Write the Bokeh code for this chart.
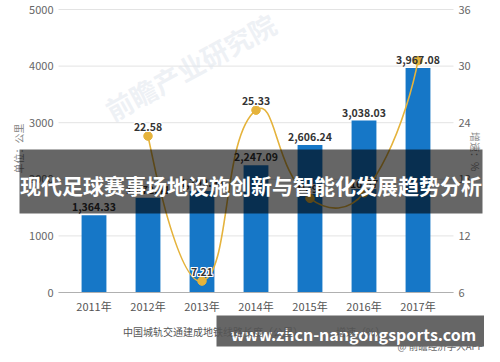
import math
from bokeh.plotting import figure
from bokeh.models import (Range1d, LinearAxis, FixedTicker, Label, BoxAnnotation,
                          Legend, LegendItem, ColumnDataSource)
from bokeh.core.properties import value
from bokeh.embed import file_html
from bokeh.resources import INLINE

# ---------------- data ----------------
years = ["2011年", "2012年", "2013年", "2014年", "2015年", "2016年", "2017年"]
length_km = [1364.33, 1672.41, 1792.94, 2247.09, 2606.24, 3038.03, 3967.08]
growth_years = ["2012年", "2013年", "2014年", "2015年", "2016年", "2017年"]
growth_pct = [22.58, 7.21, 25.33, 15.98, 16.57, 30.58]
left_ticks = [0, 1000, 2000, 3000, 4000, 5000]
right_ticks = [6, 12, 18, 24, 30, 36]
bar_name = "中国城轨交通建成地铁线路长度（公里）"
line_name = "增速（%）"
left_title = "单位：公里"
right_title = "增速：%"
title_text = "现代足球赛事场地设施创新与智能化发展趋势分析"
url_text = "www.zhcn-nangongsports.com"
credit_text = "@ 前瞻经济学人APP"
watermark = "前瞻产业研究院"

FONT = "Noto Sans CJK SC"
BLUE = "#1677c7"
GOLD = "#e5b33c"
W, H = 484, 352

# ---------------- layout (canvas pixels) ----------------
CAT_PX = 54.0          # pixels per category
X0_PX = 93.5           # canvas x of first category centre
PLOT_L, PLOT_R = 58, 453
Y_BOT, Y_TOP = 292, 9  # canvas y of axis minimum / maximum
L_MIN, L_MAX = left_ticks[0], left_ticks[-1]
R_MIN, R_MAX = right_ticks[0], right_ticks[-1]
lpx = (Y_BOT - Y_TOP) / (L_MAX - L_MIN)
rpx = (Y_BOT - Y_TOP) / (R_MAX - R_MIN)


def xv(px):
    return (px - X0_PX) / CAT_PX


def sy(py):  # canvas y (from top) -> screen y (from bottom)
    return H - py


x_lo, x_hi = xv(PLOT_L), xv(PLOT_R)

idx = list(range(len(years)))
gidx = [years.index(y) for y in growth_years]

p = figure(width=W, height=H, output_backend="svg", toolbar_location=None,
           x_range=Range1d(xv(0), xv(W)),
           y_range=Range1d(L_MIN - (H - Y_BOT) / lpx, L_MAX + Y_TOP / lpx),
           min_border_left=0, min_border_right=0, min_border_top=0,
           min_border_bottom=0)
p.outline_line_color = None
p.extra_y_ranges = {"pct": Range1d(R_MIN - (H - Y_BOT) / rpx, R_MAX + Y_TOP / rpx)}
p.xgrid.visible = False
p.ygrid.visible = False


def style_axis(ax, standoff, color):
    ax.axis_line_color = None
    ax.major_tick_line_color = None
    ax.minor_tick_line_color = None
    ax.major_tick_out = 0
    ax.major_tick_in = 0
    ax.minor_tick_out = 0
    ax.minor_tick_in = 0
    ax.major_label_text_font = FONT
    ax.major_label_text_font_size = "11px"
    ax.major_label_text_color = color
    ax.major_label_standoff = standoff


# x axis
xa = p.xaxis[0]
style_axis(xa, 5, "#555555")
xa.fixed_location = L_MIN
xa.bounds = (x_lo, x_hi)
xa.ticker = FixedTicker(ticks=idx)
xa.major_label_overrides = {i: years[i] for i in idx}
xa.axis_line_color = "#b0b0b0"

# left axis
ya = p.yaxis[0]
style_axis(ya, 5, "#666666")
ya.fixed_location = x_lo
ya.ticker = FixedTicker(ticks=left_ticks)

# right axis
ra = LinearAxis(y_range_name="pct", ticker=FixedTicker(ticks=right_ticks),
                fixed_location=x_hi)
style_axis(ra, 5, "#666666")
p.add_layout(ra, "right")

# horizontal grid lines at the left-axis ticks
p.segment(x0=x_lo, x1=x_hi, y0=left_ticks, y1=left_ticks,
          line_color="#e3e3e3", line_width=1, level="underlay")

# axis titles
p.add_layout(Label(x=18, y=sy(148), x_units="screen", y_units="screen",
                   text=left_title, angle=math.pi / 2, text_align="center",
                   text_baseline="middle", text_font=FONT, text_font_size="10px",
                   text_color="#888888"))
p.add_layout(Label(x=475, y=sy(151), x_units="screen", y_units="screen",
                   text=right_title, angle=-math.pi / 2, text_align="center",
                   text_baseline="middle", text_font=FONT, text_font_size="10px",
                   text_color="#888888"))

# watermark
p.add_layout(Label(x=xv(190), y=(Y_BOT - 66) / lpx, text=watermark, angle=0.5,
                   text_align="center", text_baseline="middle",
                   text_font=FONT, text_font_size="27px", text_font_style="bold",
                   text_color="#dfe6ee", text_alpha=0.55, level="underlay"))

# bars
p.vbar(x=idx, top=length_km, width=0.46, fill_color=BLUE, line_color=None)

# smooth line (ECharts-like bezier smoothing from the data points)
smooth = 0.5
n = len(gidx)
cp_in, cp_out = [], []
for i in range(n):
    x, y = gidx[i], growth_pct[i]
    if i == 0 or i == n - 1:
        cp_in.append((x, y)); cp_out.append((x, y)); continue
    px_, py_ = gidx[i - 1], growth_pct[i - 1]
    nx_, ny_ = gidx[i + 1], growth_pct[i + 1]
    vx, vy = nx_ - px_, ny_ - py_
    d0 = math.hypot((x - px_) * CAT_PX, (y - py_) * rpx)
    d1 = math.hypot((nx_ - x) * CAT_PX, (ny_ - y) * rpx)
    r = d1 / (d0 + d1)
    cp_in.append((x - vx * smooth * (1 - r), y - vy * smooth * (1 - r)))
    cp_out.append((x + vx * smooth * r, y + vy * smooth * r))
seg = dict(x0=gidx[:-1], y0=growth_pct[:-1], x1=gidx[1:], y1=growth_pct[1:],
           cx0=[c[0] for c in cp_out[:-1]], cy0=[c[1] for c in cp_out[:-1]],
           cx1=[c[0] for c in cp_in[1:]], cy1=[c[1] for c in cp_in[1:]])
p.bezier(x0="x0", y0="y0", x1="x1", y1="y1", cx0="cx0", cy0="cy0", cx1="cx1",
         cy1="cy1", source=ColumnDataSource(seg), y_range_name="pct",
         line_color=GOLD, line_width=1.6)
p.scatter(x=gidx, y=growth_pct, size=8.5, fill_color=GOLD, line_color=GOLD,
          y_range_name="pct")
lab_src = ColumnDataSource(dict(x=gidx[:-1], y=growth_pct[:-1],
                                t=[f"{v:.2f}" for v in growth_pct[:-1]]))
for dx, dy in [(-1, 0), (1, 0), (0, -1), (0, 1), (-1, -1), (1, 1), (-1, 1), (1, -1)]:
    p.text(x="x", y="y", text="t", source=lab_src, y_range_name="pct",
           text_align="center", text_baseline="bottom", x_offset=dx,
           y_offset=-5 + dy, text_font=value(FONT), text_font_size="10.5px",
           text_font_style="bold", text_color="white")
p.text(x="x", y="y", text="t", source=lab_src, y_range_name="pct",
       text_align="center", text_baseline="bottom", y_offset=-5,
       text_font=value(FONT), text_font_size="10.5px", text_font_style="bold",
       text_color="#333333")

# bar value labels
bar_src = ColumnDataSource(dict(x=idx, y=length_km,
                                t=[f"{v:,.2f}" for v in length_km]))
p.text(x="x", y="y", text="t", source=bar_src, text_align="center",
       text_baseline="bottom", y_offset=-4, text_font=value(FONT),
       text_font_size="10.5px", text_font_style="bold", text_color="#333333")

# legend (renderers without data, used only for the legend glyphs)
leg_bar = p.scatter(x=[], y=[], size=10, fill_color=BLUE, line_color=BLUE)
leg_line = p.line(x=[], y=[], line_color=GOLD, line_width=2, y_range_name="pct")
leg_dot = p.scatter(x=[], y=[], size=8, fill_color=GOLD, line_color=GOLD,
                    y_range_name="pct")
legend = Legend(items=[LegendItem(label=bar_name, renderers=[leg_bar]),
                       LegendItem(label=line_name, renderers=[leg_line, leg_dot])],
                orientation="horizontal", location=(104, sy(339)), margin=0,
                padding=4, spacing=14, glyph_width=14, glyph_height=12,
                label_standoff=5, label_text_font=FONT,
                label_text_font_size="10px", label_text_color="#555555",
                border_line_color=None, background_fill_alpha=0)
p.add_layout(legend)

# overlay banners
p.add_layout(BoxAnnotation(left=19, right=482, bottom=sy(213), top=sy(149),
                           left_units="screen", right_units="screen",
                           bottom_units="screen", top_units="screen",
                           fill_color="black", fill_alpha=0.6, line_color=None,
                           level="overlay"))
p.add_layout(Label(x=250.5, y=sy(184), x_units="screen", y_units="screen",
                   text=title_text, text_align="center", text_baseline="middle",
                   text_font=FONT, text_font_size="21px", text_font_style="bold",
                   text_color="white", level="overlay"))
p.add_layout(BoxAnnotation(left=216, right=W, bottom=sy(346), top=sy(315),
                           left_units="screen", right_units="screen",
                           bottom_units="screen", top_units="screen",
                           fill_color="black", fill_alpha=0.6, line_color=None,
                           level="overlay"))
p.add_layout(Label(x=353, y=sy(333), x_units="screen", y_units="screen",
                   text=url_text, text_align="center", text_baseline="middle",
                   text_font=FONT, text_font_size="16px",
                   text_font_style="bold", text_color="white", level="overlay"))
p.add_layout(Label(x=W - 1, y=0, x_units="screen", y_units="screen",
                   text=credit_text, text_align="right", text_baseline="bottom",
                   text_font=FONT, text_font_size="9.5px", text_color="#666666",
                   level="overlay"))

open("out.html", "w").write(file_html(p, INLINE))
